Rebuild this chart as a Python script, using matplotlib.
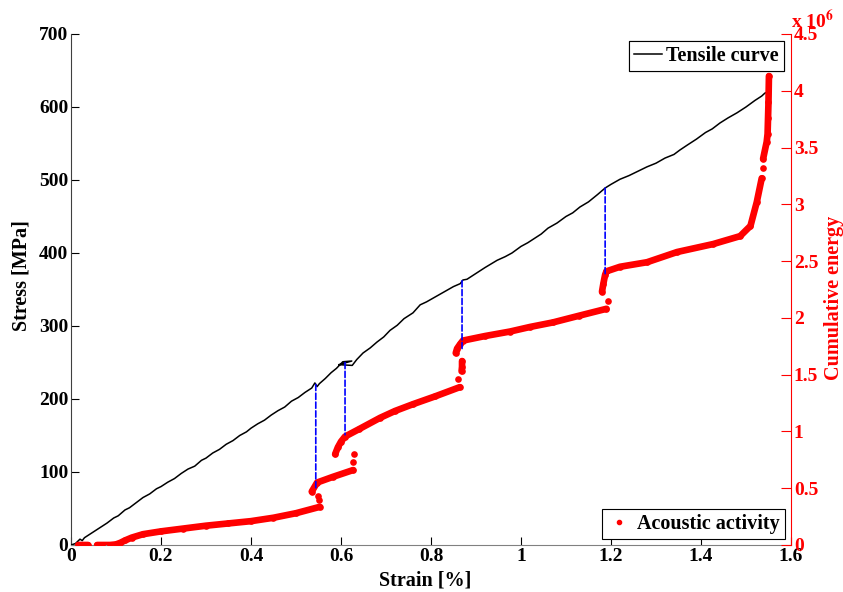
import numpy as np
import matplotlib.pyplot as plt
from matplotlib.lines import Line2D
from matplotlib.patches import ConnectionPatch
from matplotlib.ticker import FuncFormatter

# tensile curve (strain %, stress MPa)
strain_t = [0.0, 0.01, 0.02, 0.025, 0.03, 0.045, 0.06, 0.07, 0.08, 0.095, 0.105,
            0.12, 0.13, 0.145, 0.16, 0.175, 0.19, 0.2, 0.215, 0.23, 0.245, 0.26,
            0.275, 0.29, 0.3, 0.315, 0.33, 0.345, 0.36, 0.375, 0.39, 0.4, 0.415,
            0.43, 0.445, 0.46, 0.475, 0.49, 0.505, 0.52, 0.535, 0.542, 0.547,
            0.552, 0.565, 0.578, 0.59, 0.604, 0.624, 0.595, 0.625, 0.635, 0.649,
            0.665, 0.68, 0.695, 0.709, 0.725, 0.74, 0.76, 0.776, 0.79, 0.81, 0.83,
            0.85, 0.865, 0.871, 0.88, 0.9, 0.92, 0.947, 0.965, 0.98, 1.0, 1.015,
            1.03, 1.045, 1.06, 1.08, 1.1, 1.115, 1.131, 1.15, 1.17, 1.187, 1.2,
            1.22, 1.24, 1.26, 1.28, 1.3, 1.32, 1.34, 1.353, 1.37, 1.39, 1.41,
            1.425, 1.442, 1.46, 1.48, 1.5, 1.52, 1.535, 1.542, 1.55]
stress_t = [0, 2, 8, 6, 10, 16, 22, 26, 30, 37, 40,
            48, 51, 58, 65, 70, 77, 80, 86, 91, 98, 104,
            108, 116, 119, 126, 131, 138, 143, 150, 155, 160, 166,
            171, 178, 184, 189, 197, 202, 209, 215, 222, 217,
            221, 228, 236, 242, 251, 252, 247, 246, 254, 263,
            270, 278, 285, 294, 301, 310, 318, 329, 333, 340, 347,
            354, 358, 363, 364, 372, 380, 390, 395, 400, 409, 414,
            420, 426, 434, 441, 450, 455, 463, 470, 480, 489, 494,
            501, 506, 512, 518, 523, 530, 535, 541, 548, 556, 565,
            570, 578, 585, 592, 600, 609, 615, 619, 621]

# cumulative energy (x 10^6), NaN breaks the clusters of acoustic hits
strain_e = [0.016, 0.025, 0.032, 0.038, np.nan,
            0.058, 0.07, 0.087, 0.1, 0.11, 0.12, 0.135, 0.16, 0.2, 0.25, 0.3, 0.35,
            0.4, 0.45, 0.5, 0.553, np.nan,
            0.551, np.nan, 0.549, np.nan,
            0.535, 0.547, 0.582, 0.627, np.nan,
            0.627, np.nan, 0.628, np.nan,
            0.587, 0.593, 0.6, 0.609, 0.64, 0.687, 0.72, 0.76, 0.81, 0.864, np.nan,
            0.86, np.nan, 0.868, 0.869, 0.869, np.nan,
            0.855, 0.858, 0.865, 0.871, 0.92, 0.976, 1.02, 1.071, 1.13, 1.19, np.nan,
            1.193, np.nan,
            1.18, 1.183, 1.187, 1.19, 1.22, 1.28, 1.347, 1.427, 1.487, 1.51, 1.524,
            1.535, np.nan,
            1.538, np.nan,
            1.538, 1.546, 1.548, 1.549, 1.55, 1.551]
energy_e = [0, 0, 0, 0, np.nan,
            0, 0, 0, 0.005, 0.02, 0.04, 0.065, 0.095, 0.12, 0.145, 0.17, 0.19,
            0.21, 0.24, 0.28, 0.336, np.nan,
            0.40, np.nan, 0.43, np.nan,
            0.47, 0.55, 0.60, 0.66, np.nan,
            0.73, np.nan, 0.80, np.nan,
            0.80, 0.86, 0.91, 0.955, 1.02, 1.12, 1.18, 1.24, 1.31, 1.39, np.nan,
            1.46, np.nan, 1.53, 1.57, 1.62, np.nan,
            1.69, 1.73, 1.77, 1.80, 1.84, 1.88, 1.92, 1.96, 2.02, 2.08, np.nan,
            2.15, np.nan,
            2.23, 2.30, 2.38, 2.41, 2.45, 2.49, 2.58, 2.65, 2.72, 2.81, 3.02,
            3.23, np.nan,
            3.32, np.nan,
            3.40, 3.55, 3.62, 3.76, 3.90, 4.13]

# damage events linking both curves
event_strain = [0.544, 0.609, 0.869, 1.187]
event_stress = [220, 250, 362, 489]
event_energy = [0.49, 0.97, 1.73, 2.38]

plt.rcParams['font.family'] = ['Liberation Serif', 'DejaVu Serif']
plt.rcParams['font.weight'] = 'bold'
plt.rcParams['mathtext.fontset'] = 'stix'

fig = plt.figure(figsize=(8.43, 5.92), dpi=100)
ax = fig.add_axes([0.0842, 0.0794, 0.8541, 0.8632])
ax2 = ax.twinx()

ax.plot(strain_t, stress_t, color='k', lw=1.1, label='Tensile curve', zorder=3)
ax2.plot(strain_e, energy_e, color='red', lw=4.8, marker='o', ms=4.8, mew=0,
         solid_capstyle='round', solid_joinstyle='round', zorder=2)

for s, st, en in zip(event_strain, event_stress, event_energy):
    con = ConnectionPatch(xyA=(s, st), coordsA=ax.transData,
                          xyB=(s, en), coordsB=ax2.transData,
                          color='blue', ls='--', lw=1.2)
    fig.add_artist(con)

ax.set_xlim(0, 1.6)
ax.set_ylim(0, 700)
ax2.set_ylim(0, 4.5)
ax.set_xticks(np.arange(0, 1.61, 0.2))
ax.set_yticks(np.arange(0, 701, 100))
ax2.set_yticks(np.arange(0, 4.51, 0.5))
fmt = FuncFormatter(lambda v, p: '%g' % round(v, 2))
ax.xaxis.set_major_formatter(fmt)
ax2.yaxis.set_major_formatter(fmt)

ax.tick_params(direction='in', length=6, pad=2, labelsize=14, colors='k')
ax2.tick_params(direction='in', length=7, pad=2, labelsize=14, colors='red')
ax.spines['top'].set_visible(False)
ax2.spines['top'].set_visible(False)
ax.spines['right'].set_visible(False)
ax2.spines['left'].set_visible(False)
ax2.spines['bottom'].set_visible(False)
ax2.spines['right'].set_color('red')
ax.spines['left'].set_color('#404040')
ax.spines['bottom'].set_color('#808080')

fig.text(425 / 843, 1 - 580 / 592, 'Strain [%]', fontsize=14.5, fontweight='bold',
         ha='center', va='center')
fig.text(21.5 / 843, 1 - 276 / 592, 'Stress [MPa]', fontsize=14.5, fontweight='bold',
         ha='center', va='center', rotation=90)
fig.text(834 / 843, 1 - 298 / 592, 'Cumulative energy', fontsize=14.5, fontweight='bold',
         color='red', ha='center', va='center', rotation=90)
ax2.text(1.0, 1.003, r'x 10$^{6}$', transform=ax2.transAxes, color='red',
         fontsize=14, fontweight='bold', ha='left', va='bottom')

leg1 = ax.legend(loc='upper right', fontsize=14.5, fancybox=False, edgecolor='k',
                 framealpha=1, borderpad=0.25, handlelength=1.4, handletextpad=0.2,
                 borderaxespad=0.35)
leg1.get_frame().set_linewidth(0.8)
ax.add_artist(leg1)
red_handle = Line2D([], [], color='red', marker='.', ls='none', ms=6)
leg2 = ax2.legend([red_handle], ['Acoustic activity'], loc='lower right', fontsize=14.5,
                  fancybox=False, edgecolor='k', framealpha=1, borderpad=0.25,
                  handlelength=1.2, handletextpad=0.3, borderaxespad=0.3)
leg2.get_frame().set_linewidth(0.8)

fig.savefig('out.png', dpi=100)
